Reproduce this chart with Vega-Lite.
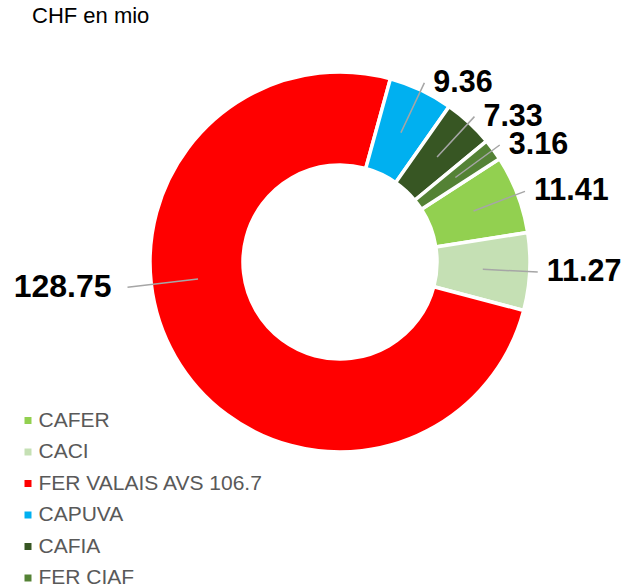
{
  "$schema": "https://vega.github.io/schema/vega-lite/v6.json",
  "autosize": "none",
  "width": 560,
  "height": 444,
  "padding": {"left": 60, "top": 40, "right": 6, "bottom": 102},
  "background": "white",
  "title": {
    "text": "CHF en mio",
    "anchor": "start",
    "frame": "group",
    "dx": -28,
    "dy": 17,
    "offset": 12,
    "baseline": "alphabetic",
    "font": "Liberation Sans",
    "fontSize": 22,
    "fontWeight": "normal",
    "color": "#000000"
  },
  "data": {
    "values": [
      {"name": "CAFER", "value": 11.41, "idx": 1},
      {"name": "CACI", "value": 11.27, "idx": 2},
      {"name": "FER VALAIS AVS 106.7", "value": 128.75, "idx": 3},
      {"name": "CAPUVA", "value": 9.36, "idx": 4},
      {"name": "CAFIA", "value": 7.33, "idx": 5},
      {"name": "FER CIAF", "value": 3.16, "idx": 6}
    ]
  },
  "config": {"view": {"stroke": null}},
  "layer": [
    {
      "mark": {"type": "arc", "outerRadius": 190, "innerRadius": 97, "stroke": "white", "strokeWidth": 3.5},
      "encoding": {
        "theta": {"field": "value", "type": "quantitative", "stack": true, "scale": {"domain": [0, 171.28], "range": [0.9966, 7.2798]}},
        "order": {"field": "idx", "type": "quantitative"},
        "color": {
          "field": "name", "type": "nominal", "sort": null,
          "scale": {
            "domain": ["CAFER", "CACI", "FER VALAIS AVS 106.7", "CAPUVA", "CAFIA", "FER CIAF"],
            "range": ["#92D050", "#C5E0B4", "#FF0000", "#00B0F0", "#375623", "#548235"]
          },
          "legend": {
            "title": null,
            "orient": "none",
            "legendX": -42.5,
            "legendY": 370,
            "padding": 0,
            "symbolType": "square",
            "symbolSize": 49,
            "symbolStrokeWidth": 0,
            "labelFont": "Liberation Sans",
            "labelFontSize": 21,
            "labelColor": "#595959",
            "labelOffset": 0,
            "labelLimit": 400,
            "rowPadding": 9.5
          }
        }
      }
    },
    {
      "transform": [
        {"window": [{"op": "sum", "field": "value", "as": "cum"}], "sort": [{"field": "idx"}], "frame": [null, 0]},
        {"calculate": "datum.cum - datum.value / 2", "as": "mid"},
        {"calculate": "datum.value > 100 ? datum.mid + 11 : datum.mid", "as": "lab"},
        {"filter": "datum.value < 100"}
      ],
      "layer": [
        {
          "mark": {"type": "arc", "radius": 198, "radius2": 143, "stroke": "#A6A6A6", "strokeWidth": 1.5, "fillOpacity": 0},
          "encoding": {
            "theta": {"field": "lab", "type": "quantitative", "stack": null, "scale": {"domain": [0, 171.28], "range": [0.9966, 7.2798]}},
            "theta2": {"field": "lab"}
          }
        },
        {
          "mark": {"type": "text", "radius": 198, "align": "left", "baseline": "middle", "dx": 9, "font": "Liberation Sans", "fontSize": 30.5, "fontWeight": "bold", "color": "#000000"},
          "encoding": {
            "theta": {"field": "lab", "type": "quantitative", "stack": null, "scale": {"domain": [0, 171.28], "range": [0.9966, 7.2798]}},
            "text": {"field": "value", "type": "quantitative", "format": ".2f"}
          }
        }
      ]
    },
    {
      "transform": [
        {"window": [{"op": "sum", "field": "value", "as": "cum"}], "sort": [{"field": "idx"}], "frame": [null, 0]},
        {"calculate": "datum.cum - datum.value / 2", "as": "mid"},
        {"calculate": "datum.value > 100 ? datum.mid + 11 : datum.mid", "as": "lab"},
        {"filter": "datum.value > 100"}
      ],
      "layer": [
        {
          "mark": {"type": "arc", "radius": 214, "radius2": 143, "stroke": "#A6A6A6", "strokeWidth": 1.5, "fillOpacity": 0},
          "encoding": {
            "theta": {"field": "lab", "type": "quantitative", "stack": null, "scale": {"domain": [0, 171.28], "range": [0.9966, 7.2798]}},
            "theta2": {"field": "lab"}
          }
        },
        {
          "mark": {"type": "text", "radius": 214, "align": "right", "baseline": "middle", "dx": -16, "font": "Liberation Sans", "fontSize": 32, "fontWeight": "bold", "color": "#000000"},
          "encoding": {
            "theta": {"field": "lab", "type": "quantitative", "stack": null, "scale": {"domain": [0, 171.28], "range": [0.9966, 7.2798]}},
            "text": {"field": "value", "type": "quantitative", "format": ".2f"}
          }
        }
      ]
    }
  ]
}
